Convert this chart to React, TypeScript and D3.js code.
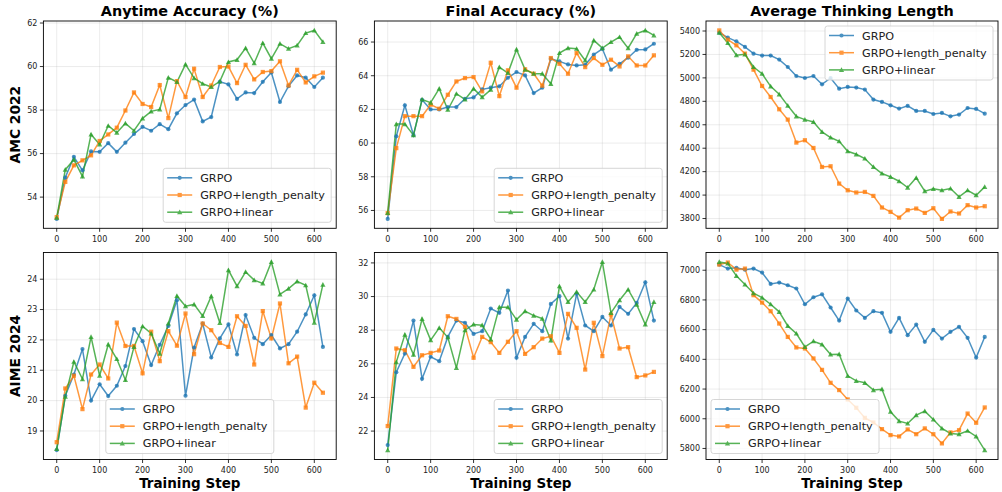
import React from "react";
import * as d3 from "d3";

const steps = [0, 20, 40, 60, 80, 100, 120, 140, 160, 180, 200, 220, 240, 260, 280, 300, 320, 340, 360, 380, 400, 420, 440, 460, 480, 500, 520, 540, 560, 580, 600, 620];
const seriesNames = ["GRPO", "GRPO+length_penalty", "GRPO+linear"];
const seriesColors = ["#1f77b4", "#ff7f0e", "#2ca02c"];
const seriesMarkers = ["circle", "square", "triangle"];
const colTitles = ["Anytime Accuracy (%)", "Final Accuracy (%)", "Average Thinking Length"];
const rowTitles = ["AMC 2022", "AIME 2024"];
const xTicks = [0, 100, 200, 300, 400, 500, 600];
const xLabel = "Training Step";

// AMC 2022 - Anytime Accuracy
const amcAnyGRPO = [53.0, 54.9, 55.85, 55.23, 56.1, 56.08, 56.48, 56.08, 56.5, 56.9, 57.23, 57.05, 57.35, 57.12, 57.85, 58.23, 58.48, 57.48, 57.68, 59.3, 59.18, 58.51, 58.81, 58.78, 59.3, 59.73, 58.37, 59.1, 59.59, 59.49, 59.06, 59.49];
const amcAnyLen = [53.08, 54.7, 55.46, 55.69, 55.92, 56.58, 56.88, 57.19, 57.98, 58.81, 58.28, 58.14, 59.15, 57.63, 59.33, 58.6, 59.9, 58.6, 59.13, 59.98, 60.0, 59.24, 60.08, 59.41, 59.75, 59.79, 60.24, 59.13, 59.85, 59.27, 59.55, 59.72];
const amcAnyLin = [53.05, 55.26, 55.72, 54.95, 56.88, 56.42, 57.28, 56.96, 57.39, 57.05, 57.62, 57.94, 58.03, 59.49, 59.29, 60.1, 59.47, 59.21, 59.06, 59.32, 60.21, 60.31, 60.85, 60.16, 61.08, 60.36, 61.05, 60.82, 60.97, 61.54, 61.66, 61.13];

// AMC 2022 - Final Accuracy
const amcFinGRPO = [55.5, 60.4, 62.24, 60.47, 62.57, 62.0, 62.0, 62.14, 62.14, 62.63, 62.71, 63.19, 63.29, 63.37, 63.88, 64.22, 64.02, 62.97, 63.29, 65.01, 64.85, 64.67, 64.61, 64.65, 65.25, 65.6, 64.36, 64.71, 65.07, 65.54, 65.56, 65.9];
const amcFinLen = [55.84, 59.7, 61.6, 61.6, 61.6, 62.28, 62.04, 62.87, 63.66, 63.86, 63.92, 63.07, 64.77, 62.79, 64.32, 63.29, 64.38, 64.12, 63.41, 65.05, 64.71, 64.12, 65.35, 64.51, 65.05, 64.65, 64.95, 64.55, 65.15, 64.61, 64.61, 65.21];
const amcFinLin = [55.86, 61.13, 61.13, 60.47, 62.59, 62.4, 63.23, 61.98, 62.93, 62.59, 63.23, 62.73, 63.17, 64.51, 64.16, 65.56, 64.36, 64.12, 64.12, 63.52, 65.35, 65.64, 65.6, 64.91, 66.1, 65.64, 66.0, 66.3, 65.64, 66.5, 66.69, 66.4];

// AMC 2022 - Average Thinking Length
const amcLenGRPO = [5386, 5343, 5312, 5264, 5207, 5190, 5190, 5156, 5093, 5016, 4999, 5016, 4945, 4999, 4908, 4923, 4917, 4900, 4815, 4795, 4766, 4738, 4761, 4718, 4718, 4692, 4701, 4672, 4687, 4743, 4735, 4695];
const amcLenLen = [5405, 5326, 5278, 5207, 5070, 4931, 4837, 4732, 4644, 4448, 4468, 4402, 4240, 4246, 4098, 4041, 4022, 4027, 3993, 3894, 3857, 3808, 3871, 3885, 3848, 3888, 3797, 3860, 3843, 3914, 3894, 3905];
const amcLenLin = [5386, 5298, 5193, 5201, 5093, 5036, 4928, 4860, 4763, 4672, 4644, 4624, 4539, 4491, 4459, 4374, 4348, 4312, 4240, 4184, 4155, 4118, 4064, 4147, 4033, 4053, 4041, 4056, 3985, 4041, 3999, 4070];

// AIME 2024 - Anytime Accuracy
const aimeAnyGRPO = [18.37, 20.16, 20.86, 21.7, 20.0, 20.54, 20.15, 20.49, 21.14, 22.36, 21.96, 21.17, 21.84, 22.46, 23.31, 20.16, 21.75, 22.54, 21.42, 22.05, 22.51, 21.52, 22.82, 22.07, 21.86, 22.16, 21.72, 21.86, 22.27, 22.84, 23.47, 21.77];
const aimeAnyLen = [18.63, 20.4, 20.82, 19.72, 20.86, 21.19, 20.73, 22.57, 21.8, 21.8, 20.9, 22.27, 21.3, 22.29, 21.81, 22.87, 21.53, 22.54, 22.32, 21.9, 21.77, 22.78, 22.46, 21.19, 22.95, 22.05, 23.2, 21.23, 21.45, 19.77, 20.59, 20.26];
const aimeAnyLin = [18.41, 20.13, 21.28, 20.71, 22.1, 20.82, 21.85, 21.37, 20.68, 21.77, 22.45, 22.21, 21.55, 22.54, 23.45, 23.11, 23.17, 22.79, 23.44, 22.56, 24.3, 23.77, 24.24, 23.97, 23.86, 24.57, 23.5, 23.69, 23.93, 23.8, 22.57, 23.82];

// AIME 2024 - Final Accuracy
const aimeFinGRPO = [21.17, 25.5, 26.61, 28.57, 25.11, 26.42, 26.16, 27.6, 28.57, 28.44, 27.78, 27.94, 29.29, 29.03, 30.36, 26.36, 27.6, 28.38, 27.94, 29.56, 30.02, 27.5, 30.16, 28.28, 27.94, 28.79, 28.28, 29.39, 28.97, 29.62, 30.85, 28.57];
const aimeFinLen = [22.3, 26.91, 26.81, 25.82, 26.51, 26.65, 26.79, 28.83, 28.67, 28.2, 26.36, 27.6, 27.29, 26.65, 27.31, 27.94, 26.59, 26.99, 27.5, 27.64, 26.65, 28.97, 28.14, 25.66, 28.44, 26.46, 28.93, 26.91, 26.99, 25.21, 25.31, 25.52];
const aimeFinLin = [20.87, 26.1, 27.74, 26.55, 28.67, 27.41, 28.14, 27.58, 25.76, 28.0, 28.34, 28.3, 27.45, 29.37, 29.37, 28.63, 29.13, 28.87, 28.69, 27.39, 30.61, 29.68, 30.28, 29.68, 30.42, 32.06, 29.03, 29.78, 30.42, 29.52, 28.34, 29.68];

// AIME 2024 - Average Thinking Length
const aimeLenGRPO = [7038, 7011, 7016, 7004, 7011, 6984, 6908, 6917, 6899, 6877, 6771, 6818, 6838, 6749, 6661, 6809, 6729, 6679, 6724, 6713, 6585, 6679, 6563, 6634, 6518, 6598, 6540, 6585, 6619, 6545, 6412, 6551];
const aimeLenLen = [7038, 7052, 7004, 7011, 6832, 6782, 6724, 6641, 6551, 6480, 6473, 6406, 6329, 6242, 6193, 6130, 6074, 6006, 5975, 5930, 5890, 5881, 5928, 5896, 5935, 5896, 5834, 5908, 5923, 6035, 5973, 6076];
const aimeLenLin = [7056, 7045, 6962, 6904, 6845, 6816, 6771, 6720, 6625, 6574, 6484, 6522, 6500, 6433, 6435, 6289, 6255, 6242, 6193, 6199, 6047, 5984, 5968, 6024, 6051, 5995, 5935, 5901, 5896, 5919, 5881, 5789];

const yTicksAmcAny = [54, 56, 58, 60, 62];
const yTicksAmcFin = [56, 58, 60, 62, 64, 66];
const yTicksAmcLen = [3800, 4000, 4200, 4400, 4600, 4800, 5000, 5200, 5400];
const yTicksAimeAny = [19, 20, 21, 22, 23, 24];
const yTicksAimeFin = [22, 24, 26, 28, 30, 32];
const yTicksAimeLen = [5800, 6000, 6200, 6400, 6600, 6800, 7000];

type Panel = { row: number; col: number; series: number[][]; yTicks: number[]; legend: string };

const panels: Panel[] = [
  { row: 0, col: 0, series: [amcAnyGRPO, amcAnyLen, amcAnyLin], yTicks: yTicksAmcAny, legend: "lowerRight" },
  { row: 0, col: 1, series: [amcFinGRPO, amcFinLen, amcFinLin], yTicks: yTicksAmcFin, legend: "lowerRight" },
  { row: 0, col: 2, series: [amcLenGRPO, amcLenLen, amcLenLin], yTicks: yTicksAmcLen, legend: "upperRight" },
  { row: 1, col: 0, series: [aimeAnyGRPO, aimeAnyLen, aimeAnyLin], yTicks: yTicksAimeAny, legend: "lowerCenter" },
  { row: 1, col: 1, series: [aimeFinGRPO, aimeFinLen, aimeFinLin], yTicks: yTicksAimeFin, legend: "lowerRight" },
  { row: 1, col: 2, series: [aimeLenGRPO, aimeLenLen, aimeLenLin], yTicks: yTicksAimeLen, legend: "lowerLeft" },
];

const W = 1002;
const H = 492;
const colX = [[43.4, 336.2], [374.4, 667.2], [706, 998]];
const rowY = [[21, 228.3], [252.5, 459.5]];
const FONT = "DejaVu Sans, sans-serif";

function Marker({ kind, x, y, color }: { kind: string; x: number; y: number; color: string }) {
  if (kind === "circle") return <circle cx={x} cy={y} r={2.1} fill={color} />;
  if (kind === "square") return <rect x={x - 2.1} y={y - 2.1} width={4.2} height={4.2} fill={color} />;
  const s = 2.6;
  return <path d={`M${x},${y - s}L${x + s},${y + s * 0.8}L${x - s},${y + s * 0.8}Z`} fill={color} />;
}

function PanelView({ p }: { p: Panel }) {
  const [x0, x1] = colX[p.col];
  const [y0, y1] = rowY[p.row];
  const xs = d3.scaleLinear().domain([-31, 651]).range([x0, x1]);
  const all = p.series.flat();
  const mn = d3.min(all) as number;
  const mx = d3.max(all) as number;
  const pad = (mx - mn) * 0.05;
  const ys = d3.scaleLinear().domain([mn - pad, mx + pad]).range([y1, y0]);
  const line = d3.line<number>().x((_, i) => xs(steps[i])).y((d) => ys(d));

  const lw = 168;
  const lh = 54;
  let lx = x1 - 5 - lw;
  let ly = y1 - 6 - lh;
  if (p.legend === "upperRight") ly = y0 + 5;
  if (p.legend === "lowerCenter") lx = (x0 + x1) / 2 - lw / 2;
  if (p.legend === "lowerLeft") lx = x0 + 5;

  return (
    <g>
      {xTicks.map((t) => (
        <line key={"gx" + t} x1={xs(t)} x2={xs(t)} y1={y0} y2={y1} stroke="#b0b0b0" strokeOpacity={0.3} strokeWidth={0.8} />
      ))}
      {p.yTicks.map((t) => (
        <line key={"gy" + t} x1={x0} x2={x1} y1={ys(t)} y2={ys(t)} stroke="#b0b0b0" strokeOpacity={0.3} strokeWidth={0.8} />
      ))}
      {p.series.map((s, si) => (
        <g key={si} opacity={0.8}>
          <path d={line(s) || ""} fill="none" stroke={seriesColors[si]} strokeWidth={1.5} />
        </g>
      ))}
      {p.series.map((s, si) => (
        <g key={"m" + si} opacity={0.8}>
          {s.map((v, i) => (
            <Marker key={i} kind={seriesMarkers[si]} x={xs(steps[i])} y={ys(v)} color={seriesColors[si]} />
          ))}
        </g>
      ))}
      <rect x={x0} y={y0} width={x1 - x0} height={y1 - y0} fill="none" stroke="#000" strokeWidth={0.9} />
      {xTicks.map((t) => (
        <g key={"tx" + t}>
          <line x1={xs(t)} x2={xs(t)} y1={y1} y2={y1 + 3.5} stroke="#000" strokeWidth={0.8} />
          <text x={xs(t)} y={y1 + 13.5} textAnchor="middle" fontSize={8} fontFamily={FONT} fill="#222">{t}</text>
        </g>
      ))}
      {p.yTicks.map((t) => (
        <g key={"ty" + t}>
          <line x1={x0 - 3.5} x2={x0} y1={ys(t)} y2={ys(t)} stroke="#000" strokeWidth={0.8} />
          <text x={x0 - 6} y={ys(t)} dy="0.35em" textAnchor="end" fontSize={8} fontFamily={FONT} fill="#222">{t}</text>
        </g>
      ))}
      <g>
        <rect x={lx} y={ly} width={lw} height={lh} rx={2.5} fill="#fff" fillOpacity={0.8} stroke="#cccccc" strokeWidth={0.8} />
        {seriesNames.map((n, i) => {
          const cy = ly + 9.5 + i * 17.2;
          return (
            <g key={n}>
              <g opacity={0.8}>
                <line x1={lx + 4} x2={lx + 29} y1={cy} y2={cy} stroke={seriesColors[i]} strokeWidth={1.5} />
                <Marker kind={seriesMarkers[i]} x={lx + 16.5} y={cy} color={seriesColors[i]} />
              </g>
              <text x={lx + 37} y={cy} dy="0.36em" fontSize={11.2} fontFamily={FONT} fill="#222">{n}</text>
            </g>
          );
        })}
      </g>
    </g>
  );
}

export default function App() {
  return (
    <svg width={W} height={H} style={{ position: "absolute", left: 0, top: 0, background: "#fff" }}>
      <rect width={W} height={H} fill="#fff" />
      {panels.map((p, i) => (
        <PanelView key={i} p={p} />
      ))}
      {colTitles.map((t, c) => (
        <text key={t} x={(colX[c][0] + colX[c][1]) / 2} y={16} textAnchor="middle" fontSize={14.4} fontWeight="bold" fontFamily={FONT} fill="#000">{t}</text>
      ))}
      {rowTitles.map((t, r) => (
        <text key={t} transform={`translate(15,${(rowY[r][0] + rowY[r][1]) / 2}) rotate(-90)`} textAnchor="middle" dy="0.36em" fontSize={13.8} fontWeight="bold" fontFamily={FONT} fill="#000">{t}</text>
      ))}
      {colX.map((c, i) => (
        <text key={"xl" + i} x={(c[0] + c[1]) / 2} y={488} textAnchor="middle" fontSize={13.5} fontWeight="bold" fontFamily={FONT} fill="#000">{xLabel}</text>
      ))}
    </svg>
  );
}
